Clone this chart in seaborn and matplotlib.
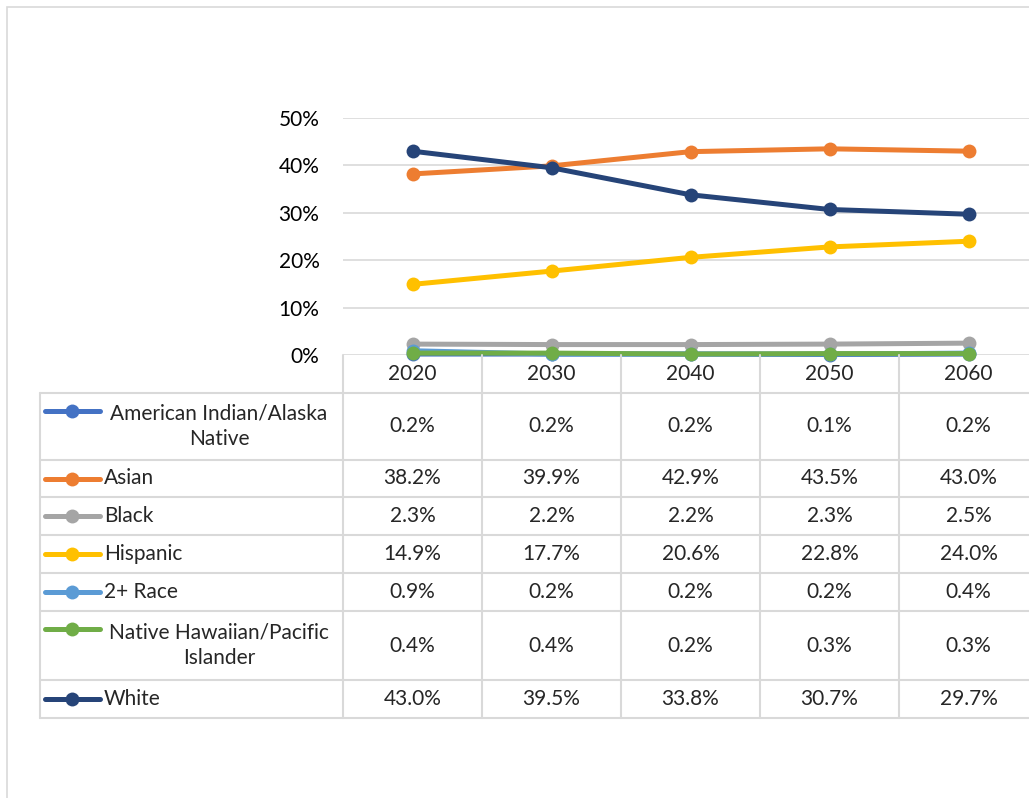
import matplotlib
matplotlib.use("Agg")
import matplotlib.pyplot as plt
import matplotlib.transforms as mtransforms
from matplotlib.patches import Rectangle
from matplotlib.lines import Line2D
from matplotlib.ticker import PercentFormatter
import seaborn as sns
import pandas as pd

years = ["2020", "2030", "2040", "2050", "2060"]
series_names = ["American Indian/Alaska\nNative", "Asian", "Black", "Hispanic",
                "2+ Race", "Native Hawaiian/Pacific\nIslander", "White"]
aian = [0.2, 0.2, 0.2, 0.1, 0.2]
asian = [38.2, 39.9, 42.9, 43.5, 43.0]
black = [2.3, 2.2, 2.2, 2.3, 2.5]
hispanic = [14.9, 17.7, 20.6, 22.8, 24.0]
two_plus = [0.9, 0.2, 0.2, 0.2, 0.4]
nhpi = [0.4, 0.4, 0.2, 0.3, 0.3]
white = [43.0, 39.5, 33.8, 30.7, 29.7]
colors = ["#4472C4", "#ED7D31", "#A5A5A5", "#FFC000", "#5B9BD5", "#70AD47", "#264478"]
y_ticks = [0, 10, 20, 30, 40, 50]

values = [aian, asian, black, hispanic, two_plus, nhpi, white]

sns.set_theme(style="white")
plt.rcParams["font.family"] = ["Lato", "DejaVu Sans"]

W, H = 1029, 798
fig = plt.figure(figsize=(W / 100, H / 100), dpi=100)

def fx(px):
    return px / W

def fy(py):
    return 1 - py / H

# outer border
fig.patches.append(Rectangle((fx(7), fy(1000)), 2.0, fy(7) - fy(1000),
                             transform=fig.transFigure, fill=False,
                             edgecolor="#D9D9D9", lw=1.2))

ax_left, ax_right = 343, 1038
ax_top, ax_bot = 118, 355
ax = fig.add_axes([fx(ax_left), fy(ax_bot), fx(ax_right) - fx(ax_left), fy(ax_top) - fy(ax_bot)])

rows = []
for name, vals in zip(series_names, values):
    for i, (yr, v) in enumerate(zip(years, vals)):
        rows.append({"series": name, "xi": i, "value": v})
df = pd.DataFrame(rows)

for name, col in zip(series_names, colors):
    sub = df[df["series"] == name]
    sns.lineplot(data=sub, x="xi", y="value", ax=ax, color=col, lw=3.6,
                 marker="o", markersize=10, markeredgewidth=0, clip_on=False,
                 legend=False)

fs = 15
ax.set_xlim(-0.5, 4.5)
ax.set_ylim(0, 50)
ax.set_yticks(y_ticks)
ax.yaxis.set_major_formatter(PercentFormatter(decimals=0))
ax.tick_params(axis="y", length=0, pad=17, labelsize=fs, labelcolor="#000000")
ax.set_xticks([])
ax.set_xlabel("")
ax.set_ylabel("")
for s in ax.spines.values():
    s.set_visible(False)
ax.yaxis.grid(True, color="#D9D9D9", lw=1.2)
ax.set_axisbelow(True)

# data table
grid_col = "#D9D9D9"
blend = mtransforms.blended_transform_factory(ax.transData, fig.transFigure)
table_left = 40
row_bounds = [393, 460, 497, 535, 573, 611, 680, 718]
col_bounds = [-0.5, 0.5, 1.5, 2.5, 3.5, 4.5]

def hline(py, x0, x1):
    fig.lines.append(Line2D([fx(x0), fx(x1)], [fy(py), fy(py)], transform=fig.transFigure,
                            color=grid_col, lw=1.5))

for py in row_bounds:
    hline(py, table_left, ax_right)
fig.lines.append(Line2D([fx(table_left)] * 2, [fy(393), fy(718)], transform=fig.transFigure,
                        color=grid_col, lw=1.5))
for cb in col_bounds:
    fig.lines.append(Line2D([cb, cb], [fy(ax_bot), fy(718)], transform=blend,
                            color=grid_col, lw=1.5))

for i, yr in enumerate(years):
    fig.text(i, fy(374), yr, transform=blend, ha="center", va="center", fontsize=fs)

for r, (name, vals, col) in enumerate(zip(series_names, values, colors)):
    top, bot = row_bounds[r], row_bounds[r + 1]
    cy = (top + bot) / 2
    two_line = "\n" in name
    key_y = top + 18 if two_line else cy
    fig.lines.append(Line2D([fx(45), fx(100)], [fy(key_y)] * 2, transform=fig.transFigure,
                            color=col, lw=3.6))
    fig.lines.append(Line2D([fx(72)], [fy(key_y)], transform=fig.transFigure,
                            color=col, marker="o", markersize=10, markeredgewidth=0))
    if two_line:
        fig.text(fx(219), fy(cy), name, ha="center", va="center", fontsize=fs,
                 multialignment="center", linespacing=1.35)
    else:
        fig.text(fx(104), fy(cy), name, ha="left", va="center", fontsize=fs)
    for i, v in enumerate(vals):
        fig.text(i, fy(cy), f"{v:.1f}%", transform=blend, ha="center", va="center", fontsize=fs)

fig.savefig("out.png", dpi=100)
